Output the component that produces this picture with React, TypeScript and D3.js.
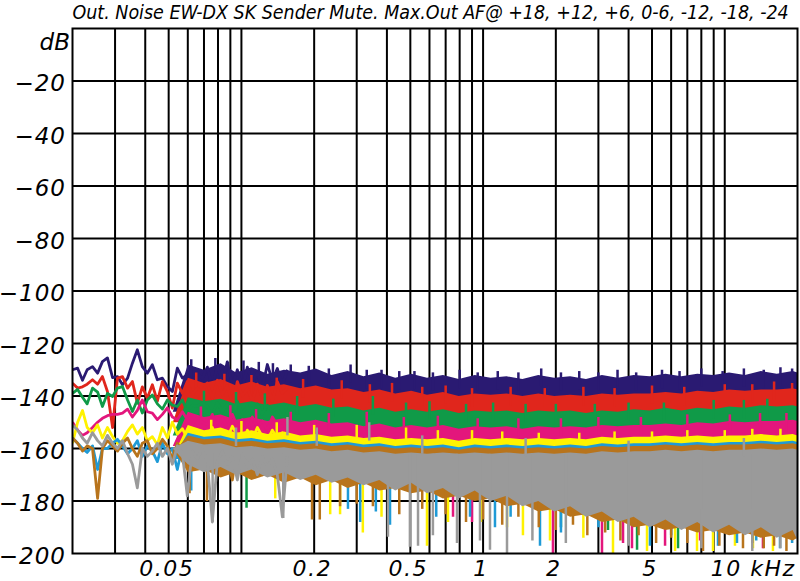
import React, { useLayoutEffect, useRef, useState } from 'react';
import * as d3 from 'd3';

const W = 800;
const H = 581;
const PL = 72.5, PR = 797.5, PT = 28.5, PB = 553.5;

const title = 'Out. Noise EW-DX SK Sender Mute. Max.Out AF@ +18, +12, +6, 0-6, -12, -18, -24';

const yTickValues = [-20, -40, -60, -80, -100, -120, -140, -160, -180, -200];
const xGridHz = [30, 40, 50, 60, 70, 80, 90, 100, 200, 300, 400, 500, 600, 700, 800, 900, 1000,
  2000, 3000, 4000, 5000, 6000, 7000, 8000, 9000, 10000];
const xTickHz = [50, 200, 500, 1000, 2000, 5000];
const xTickText = ['0.05', '0.2', '0.5', '1', '2', '5'];

// low-frequency sample points (Hz)
const lowFreqHz = [20, 21, 22, 23, 24.2, 25.4, 26.6, 27.9, 29.3, 30.7, 32.2, 33.8, 35.4, 37.1, 38.9,
  40.8, 42.8, 44.9, 47.1, 49.4, 51.8, 54.3, 57, 59.7, 62.6, 65.7, 68.9, 72.3, 75.8, 79.5, 83.4, 87.4,
  91.7, 96.2, 100.9, 105.8, 111, 116.4, 122, 128, 134.3, 140.8, 147.7, 154.9];

const navyLow = [-130, -129.4, -134, -130, -128.8, -131.3, -126.9, -125.5, -133, -132.6, -135.7, -133.2,
  -127.5, -122.4, -128.8, -131.3, -128.1, -133.8, -133.2, -136.4, -138.3, -129.4, -133.2, -131.9, -135.1,
  -131.3, -133.2, -129, -137, -128.5, -135, -127, -136, -130, -137, -129, -135, -131, -137, -128, -134,
  -129.5, -136, -130];
const redLow = [-135.1, -137, -136.5, -135.5, -133.8, -135.5, -132.6, -138.3, -152, -133.2, -132.6, -137,
  -134.5, -142.7, -136.5, -140.8, -135.7, -142, -134.5, -138.3, -144.6, -135.1, -139, -134.5, -139.6, -137,
  -138.3, -135, -141, -134, -139.5, -136, -143, -134.5, -140, -137, -142, -135.5, -140.5, -136, -142,
  -134.5, -139, -137];
const greenLow = [-139, -137.5, -140.5, -143, -137, -138.5, -144, -139, -140.2, -137, -136.4, -141.5,
  -145.9, -141.5, -146.5, -141.5, -139.6, -143, -145, -141.5, -143.5, -144, -141.5, -146, -143.5, -144,
  -142.7, -144, -147, -142.5, -146, -143, -148, -142, -146.5, -144, -148, -143, -147, -143.5, -146,
  -144.5, -148, -143.5];
const magentaLow = [-150, -153, -155, -154, -152, -150, -148.5, -147.5, -147, -147, -146.5, -145, -148,
  -145.5, -141.5, -146, -146.5, -149, -147, -144.5, -148, -149, -146, -149, -151, -148, -150, -151, -147,
  -153, -148.5, -152, -147, -151.5, -149, -154, -148, -152, -149.5, -153, -148, -151, -150, -153];
const yellowLow = [-158, -150, -145.5, -152, -154, -151, -156, -152, -155.5, -158, -157, -153.5, -151,
  -154.5, -152, -157, -155.5, -158.5, -152, -156, -150, -154.5, -152.5, -156, -158.5, -153, -154.5, -155,
  -152, -157, -153.5, -156, -151.5, -155, -158, -153, -156.5, -152, -155.5, -157, -153, -156, -154, -155.5];
const blueLow = [-156, -158, -160, -161.5, -159, -168, -160, -160, -158, -156.5, -159, -162, -160, -157,
  -163, -159, -161, -165, -158, -162, -160, -168, -159, -163, -161, -166, -160, -163, -158, -170, -161,
  -164, -159, -167, -160, -163, -171, -160, -165, -159, -168, -161, -164, -160];
const brownLow = [-156, -158, -161, -159, -160, -179, -160, -157, -159, -161, -158, -156, -160, -163, -158,
  -157, -162, -160, -156.5, -159, -164, -158, -161, -166, -159, -162, -158, -164, -160, -168, -159, -163,
  -172, -160, -165, -158, -167, -161, -170, -159, -163, -166, -160, -164];
const grayLow = [-151, -153, -156, -158, -154, -157, -159, -155, -158, -160, -157, -162, -166, -175, -160,
  -163, -161, -158, -163, -160, -166, -159, -162, -178, -161, -164, -160, -165, -188, -165, -161, -166,
  -163, -172, -162, -167, -164, -170, -163, -167, -164, -170, -186, -163];

// dense band region (Hz): upper envelope per series
const bandFreqHz = [52, 60, 70, 82, 95, 110, 128, 150, 175, 203, 236, 275, 320, 372, 433, 504, 586, 682, 793,
  923, 1074, 1250, 1454, 1692, 1969, 2291, 2665, 3101, 3608, 4198, 4885, 5684, 6613, 7695, 8953, 10417,
  12121, 14103, 16409, 19093, 20000];

const navyHi = [-146, -128, -130, -127.5, -131, -129, -131.5, -130, -131, -129.5, -132, -130.5, -132.5, -131,
  -133, -131.5, -133, -132, -133.5, -132, -133, -132.5, -133.5, -132, -133, -132.5, -133.5, -132, -133, -132,
  -132.5, -131.5, -132.5, -131.5, -132, -131, -132, -130.5, -131.5, -130.5, -131];
const redHi = [-150, -133, -135, -133.5, -136, -134.5, -136.5, -135.5, -137, -136, -137.5, -137, -138.5,
  -137.5, -139, -138, -139.5, -138.5, -140, -139, -139.5, -139, -140, -139, -140, -139.5, -140, -139, -139.5,
  -139, -139, -138.5, -139, -138, -138.5, -137.5, -138, -137.5, -137.5, -137, -137.5];
const greenHi = [-155, -140.5, -142, -141, -143, -142, -143.5, -142.5, -144, -143, -144.5, -144, -145.5,
  -144.5, -146, -145, -146, -145, -146.5, -145.5, -146, -145.5, -146.5, -145.5, -146, -145.5, -146.5, -145.5,
  -146, -145, -145.5, -144.5, -145.5, -144.5, -145, -144, -144.5, -143.5, -144, -143.5, -144];
const magentaHi = [-159, -146, -148, -147, -149, -148, -149.5, -148.5, -150, -149, -150.5, -150, -151.5,
  -150.5, -152, -151, -152, -151, -152.5, -151.5, -152, -151.5, -152.5, -151.5, -152, -151.5, -152, -151,
  -151.5, -151, -151, -150.5, -151, -150, -150.5, -149.5, -150, -149.5, -149.5, -149, -149.5];
const yellowHi = [-163, -151, -153, -152, -154, -153, -154.5, -153.5, -155, -154.5, -155.5, -155, -156,
  -155.5, -156.5, -156, -156.5, -156, -157, -156, -156.5, -156, -156.5, -156, -156.5, -156, -156.5, -155.5,
  -156, -155.5, -155.5, -155, -155.5, -155, -155.5, -155, -155, -154.5, -155, -154.5, -155];
const blueHi = [-164, -154, -155.5, -155, -156.5, -156, -157, -156.5, -157.5, -157, -158, -157.5, -158.5,
  -158, -159, -158.5, -159, -158.5, -159.5, -158.5, -159, -158.5, -159, -158.5, -159, -158.5, -159, -158,
  -158.5, -158, -158, -157.5, -158, -157.5, -158, -157.5, -157.5, -157, -157.5, -157, -157.5];
const brownHi = [-162, -155, -156.5, -156, -157.5, -157, -158, -157.5, -158.5, -158, -159, -158.5, -159.5,
  -159, -160, -159.5, -160, -159.5, -160.5, -159.5, -160, -159.5, -160, -159.5, -160, -159.5, -160, -159,
  -159.5, -159, -159, -158.5, -159, -158.5, -159, -158.5, -158.5, -158, -158.5, -158, -158.5];
const brownLo = [-160, -169, -168, -171, -169, -172, -170, -173, -171, -174, -172, -175, -173, -176, -175,
  -177, -176, -179, -178, -180, -179, -182, -181, -184, -183, -186, -185, -188, -187, -190, -189, -191,
  -190, -192, -191, -193, -192, -194, -193, -195, -194];
const grayHi = [-160, -157, -158.5, -158, -159.5, -159, -160, -159.5, -160.5, -160, -161, -160.5, -161.5,
  -161, -162, -161.5, -162, -161.5, -162, -161.5, -162, -161.5, -162, -161.5, -162, -161.5, -162, -161,
  -161.5, -161, -161, -160.5, -161, -160.5, -161, -160.5, -160.5, -160, -160.5, -160, -160.5];
const grayLo = [-160, -166, -169, -167, -170, -168, -171, -169, -172, -170, -173, -171, -174, -172, -176,
  -173, -177, -175, -179, -176, -180, -178, -182, -180, -184, -182, -186, -184, -188, -186, -190, -187,
  -191, -188, -192, -189, -193, -190, -194, -191, -195];

// floors of the upper (mostly covered) bands
const navyFloor = -146;
const redFloor = -150;
const greenFloor = -155;
const magentaFloor = -159;
const yellowFloor = -163;
const blueFloor = -164;

// upward peaks [Hz, dB]
const navyPeaks = [[62, -126], [78, -125.5], [88, -127], [102, -126.5], [118, -127], [135, -127.5],
  [160, -128], [190, -128.5], [230, -129.5], [283, -128], [330, -130], [380, -130], [450, -130.5],
  [520, -130.5], [620, -131], [800, -130], [950, -131], [1150, -130.5], [1400, -131], [1740, -129.5],
  [2100, -131], [2500, -130.5], [3000, -131], [3600, -130], [4300, -131], [5500, -130], [6500, -130.5],
  [8000, -129.5], [9800, -130.5], [12000, -129.5], [14500, -130], [17000, -129], [19000, -129.5]];
const redPeaks = [[65, -131], [85, -131.5], [110, -132], [140, -133], [180, -133.5], [260, -134],
  [340, -135.5], [420, -135], [560, -136.5], [700, -136], [900, -137], [1300, -136.5], [1800, -137],
  [2600, -136.5], [3500, -137], [5000, -136], [6800, -136.5], [10000, -135.5], [13000, -135.5],
  [16000, -134.5], [19000, -135]];
const greenPeaks = [[70, -138], [95, -138.5], [125, -139], [170, -140], [240, -141], [350, -140],
  [480, -142.5], [600, -142], [850, -143], [1100, -142.5], [1500, -143], [2000, -143], [2900, -143],
  [4000, -142.5], [5600, -142.5], [9000, -141.5], [12000, -141.5], [15000, -141]];
const magentaPeaks = [[68, -144], [90, -143.5], [115, -145], [160, -146], [230, -146.5], [330, -146],
  [470, -148], [650, -147.5], [950, -148.5], [1400, -148.5], [2100, -148.5], [3000, -148], [4500, -148],
  [7000, -147], [10500, -147], [14000, -146.5], [18000, -146.5]];
const yellowPeaks = [[75, -149], [100, -149.5], [140, -150], [200, -151], [300, -151], [480, -152],
  [650, -153], [900, -153], [1200, -153.5], [1700, -154], [2500, -154], [3500, -153.5], [5000, -153.5],
  [7000, -153], [10000, -153], [13000, -152.5], [17000, -152.5]];
const grayPeaks = [[95, -152], [155, -148], [205, -152], [338, -150], [560, -155], [1500, -156],
  [4000, -157], [12000, -156]];

// downward dips [Hz, dB]
const greenDips = [[105, -182.6], [2100, -190], [3288, -191], [4336, -198.6], [6408, -198]];
const magentaDips = [[751, -186], [900, -188], [1946, -200], [3105, -200], [3794, -196], [4132, -198],
  [5662, -197], [7902, -195], [14390, -198]];
const yellowDips = [[138, -179], [233, -185], [256, -185], [318, -192], [380, -186], [586, -197], [716, -188],
  [980, -188], [1256, -190], [1462, -193], [1892, -195], [2600, -194], [3448, -200], [4768, -199], [6228, -199],
  [7678, -199], [8942, -199], [11024, -197], [13086, -198], [15828, -199]];
const blueDips = [[62, -176], [276, -183], [310, -188], [360, -184], [412, -189], [640, -186], [883, -186],
  [1120, -190], [1300, -186], [1720, -197], [2100, -192], [3000, -190], [4904, -197], [6000, -193],
  [9376, -197], [11236, -196], [13500, -195], [16926, -198], [19000, -196]];
const brownDips = [[61, -177], [72, -180], [196, -187], [211, -187], [256, -182], [300, -181], [350, -182],
  [450, -185], [560, -183], [700, -185], [850, -188], [1000, -187], [1200, -189], [1400, -186], [1700, -190],
  [2000, -191], [2355, -189], [2700, -193], [3200, -192], [3700, -195], [4400, -193], [5200, -196],
  [6000, -194], [7000, -196], [8128, -199], [9500, -197], [11898, -198], [13000, -196], [14500, -198],
  [16000, -197], [18000, -199], [19800, -190]];
const grayDips = [[76, -188], [149, -186.5], [404, -193.6], [498, -197.4], [538, -197], [620, -193],
  [780, -196], [971, -195], [1068, -198.6], [1256, -199.8], [1600, -195], [2200, -196], [4000, -197],
  [8000, -198], [13000, -199], [17000, -198]];

const colors = ['#2a1a72', '#e0261c', '#109a48', '#e3167c', '#fff200', '#1f9ad6', '#b8741c', '#9a9a9a'];

const none: number[][] = [];
const seriesList = [
  { low: navyLow, hi: navyHi, lo: null as number[] | null, floor: navyFloor, peaks: navyPeaks, dips: none },
  { low: redLow, hi: redHi, lo: null, floor: redFloor, peaks: redPeaks, dips: none },
  { low: greenLow, hi: greenHi, lo: null, floor: greenFloor, peaks: greenPeaks, dips: greenDips },
  { low: magentaLow, hi: magentaHi, lo: null, floor: magentaFloor, peaks: magentaPeaks, dips: magentaDips },
  { low: yellowLow, hi: yellowHi, lo: null, floor: yellowFloor, peaks: yellowPeaks, dips: yellowDips },
  { low: blueLow, hi: blueHi, lo: null, floor: blueFloor, peaks: none, dips: blueDips },
  { low: brownLow, hi: brownHi, lo: brownLo, floor: 0, peaks: none, dips: brownDips },
  { low: grayLow, hi: grayHi, lo: grayLo, floor: 0, peaks: grayPeaks, dips: grayDips },
];

export default function App() {
  const x = d3.scaleLog().domain([20, 20000]).range([PL, PR]);
  const y = d3.scaleLinear().domain([-200, 0]).range([PB, PT]);

  const titleRef = useRef<SVGTextElement>(null);
  const [sx, setSx] = useState(0.85);
  useLayoutEffect(() => {
    const el = titleRef.current;
    if (el) {
      const w = el.getComputedTextLength();
      if (w > 0) setSx(716 / w);
    }
  }, []);

  const lineGen = d3.line<number>()
    .x((_, i) => x(lowFreqHz[i]))
    .y((d) => y(d));

  const labelFont = '"DejaVu Sans", "Liberation Sans", sans-serif';

  return (
    <svg width={W} height={H} style={{ position: 'absolute', left: 0, top: 0, background: '#fff' }}>
      <defs>
        <clipPath id="plotClip">
          <rect x={PL} y={PT} width={PR - PL} height={PB - PT} />
        </clipPath>
      </defs>
      <rect x={0} y={0} width={W} height={H} fill="#fff" />
      <g transform={`translate(${PL},19) scale(${sx},1)`}>
        <text ref={titleRef} x={0} y={0}
          fontFamily='"DejaVu Sans Condensed", "DejaVu Sans", sans-serif'
          fontStyle="italic" fontSize={20} fill="#000">{title}</text>
      </g>

      <g>
        {yTickValues.slice(0, -1).map((v) => (
          <line key={'h' + v} x1={PL} x2={PR} y1={y(v)} y2={y(v)} stroke="#000" strokeWidth={2} />
        ))}
        {xGridHz.map((f) => (
          <line key={'v' + f} x1={x(f)} x2={x(f)} y1={PT} y2={PB} stroke="#000" strokeWidth={2} />
        ))}
      </g>

      <g clipPath="url(#plotClip)">
        {seriesList.map((s, si) => {
          const lo = s.lo;
          const area = d3.area<number>()
            .x((_, i) => x(bandFreqHz[i]))
            .y0((_, i) => y(lo ? lo[i] : s.floor))
            .y1((d) => y(d));
          return (
            <g key={si}>
              <path d={area(s.hi) || ''} fill={colors[si]} />
              {s.dips.map((p, k) => (
                <line key={'d' + k} x1={x(p[0])} x2={x(p[0])} y1={y(-162)} y2={y(p[1])}
                  stroke={colors[si]} strokeWidth={2.5} />
              ))}
              {s.peaks.map((p, k) => (
                <line key={'p' + k} x1={x(p[0])} x2={x(p[0])} y1={y(p[1])} y2={y(p[1] - 7)}
                  stroke={colors[si]} strokeWidth={2.5} />
              ))}
              <path d={lineGen(s.low) || ''} fill="none" stroke={colors[si]} strokeWidth={2.8}
                strokeLinejoin="round" />
            </g>
          );
        })}
      </g>

      <rect x={PL} y={PT} width={PR - PL} height={PB - PT} fill="none" stroke="#000" strokeWidth={2} />

      <g fontFamily={labelFont} fontStyle="italic" fontSize={23} fill="#000">
        <text x={70} y={50} textAnchor="end">dB</text>
        {yTickValues.map((v) => (
          <text key={'yl' + v} x={66} y={y(v) + 10} textAnchor="end" letterSpacing={1}>
            {'\u2212' + Math.abs(v)}
          </text>
        ))}
      </g>
      <g fontFamily={labelFont} fontStyle="italic" fontSize={22} fill="#000">
        {xTickHz.map((f, i) => (
          <text key={'xl' + f} x={x(f) - 2} y={575.5} textAnchor="middle" letterSpacing={1.5}>{xTickText[i]}</text>
        ))}
        <text x={x(10000) - 14} y={575.5} letterSpacing={1.5}>10 kHz</text>
      </g>
    </svg>
  );
}
